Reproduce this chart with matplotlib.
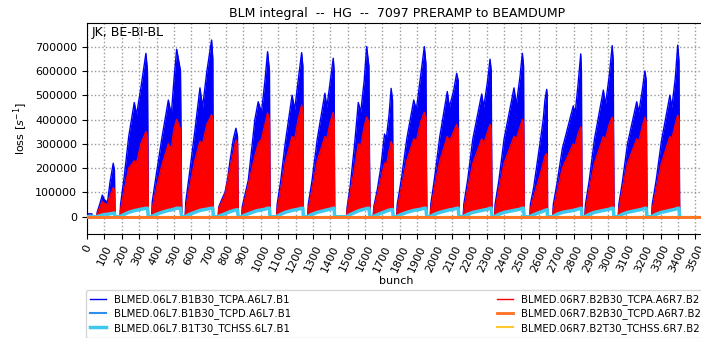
import numpy as np
import matplotlib
matplotlib.use("Agg")
import matplotlib.pyplot as plt

# ---------------- data (values in units of 1000 s^-1) ----------------
train_bunch = [
    [4, 6, 28, 31],
    [56, 59, 75, 88, 100, 118, 132, 151, 158, 161],
    [190, 193, 215, 240, 272, 285, 310, 339, 348, 353],
    [372, 375, 400, 430, 468, 485, 500, 516, 538, 545],
    [565, 568, 590, 620, 650, 665, 690, 717, 724, 727],
    [755, 758, 775, 794, 810, 823, 842, 857, 866, 870],
    [890, 893, 928, 966, 985, 1004, 1024, 1039, 1050, 1053],
    [1091, 1094, 1115, 1140, 1180, 1195, 1215, 1235, 1242, 1245],
    [1270, 1273, 1295, 1325, 1369, 1380, 1400, 1417, 1422, 1425],
    [1494, 1497, 1515, 1540, 1561, 1575, 1595, 1609, 1622, 1628],
    [1647, 1650, 1670, 1690, 1712, 1722, 1738, 1750, 1758, 1762],
    [1782, 1785, 1810, 1840, 1880, 1895, 1920, 1941, 1950, 1955],
    [1975, 1978, 2000, 2030, 2073, 2085, 2110, 2127, 2136, 2140],
    [2165, 2168, 2190, 2220, 2271, 2283, 2305, 2319, 2326, 2330],
    [2345, 2348, 2370, 2400, 2457, 2470, 2492, 2505, 2512, 2515],
    [2548, 2551, 2570, 2590, 2610, 2625, 2635, 2645, 2648, 2650],
    [2680, 2683, 2705, 2735, 2798, 2808, 2825, 2841, 2845, 2848],
    [2865, 2868, 2890, 2920, 2971, 2983, 3005, 3022, 3028, 3032],
    [3057, 3060, 3080, 3110, 3163, 3175, 3195, 3210, 3218, 3222],
    [3249, 3252, 3275, 3305, 3354, 3365, 3385, 3399, 3406, 3410],
]

b1_tcpa_hi = [
    [0, 12, 12, 0],
    [0, 20, 55, 89, 70, 60, 140, 220, 190, 0],
    [0, 50, 170, 330, 470, 420, 530, 672, 600, 0],
    [0, 60, 180, 320, 480, 420, 560, 689, 600, 0],
    [0, 60, 180, 350, 530, 450, 600, 727, 650, 0],
    [0, 40, 70, 100, 160, 230, 320, 364, 330, 0],
    [0, 40, 150, 400, 473, 430, 560, 679, 600, 0],
    [0, 50, 150, 300, 500, 440, 560, 675, 620, 0],
    [0, 50, 150, 320, 508, 450, 560, 652, 600, 0],
    [0, 40, 130, 300, 470, 430, 560, 700, 620, 0],
    [0, 40, 110, 200, 340, 320, 420, 528, 480, 0],
    [0, 50, 160, 320, 480, 440, 580, 700, 630, 0],
    [0, 50, 160, 330, 515, 450, 520, 590, 560, 0],
    [0, 50, 150, 320, 505, 450, 560, 648, 600, 0],
    [0, 50, 150, 320, 530, 460, 580, 672, 620, 0],
    [0, 50, 120, 220, 320, 400, 480, 524, 500, 0],
    [0, 50, 140, 280, 456, 420, 540, 670, 600, 0],
    [0, 50, 150, 320, 521, 460, 580, 704, 640, 0],
    [0, 50, 140, 300, 473, 430, 520, 600, 560, 0],
    [0, 50, 150, 310, 500, 450, 570, 706, 640, 0],
]

b2_tcpa_hi = [
    [0, 5, 6, 0],
    [0, 15, 40, 62, 55, 50, 85, 120, 110, 0],
    [0, 30, 110, 200, 230, 220, 300, 350, 330, 0],
    [0, 30, 120, 210, 300, 280, 360, 400, 360, 0],
    [0, 30, 120, 230, 310, 300, 380, 420, 400, 0],
    [0, 35, 60, 90, 150, 200, 260, 316, 300, 0],
    [0, 25, 130, 250, 300, 320, 380, 427, 400, 0],
    [0, 30, 110, 220, 330, 320, 400, 460, 420, 0],
    [0, 30, 110, 230, 330, 320, 390, 430, 400, 0],
    [0, 30, 100, 200, 300, 290, 370, 410, 390, 0],
    [0, 30, 90, 150, 220, 210, 270, 310, 290, 0],
    [0, 30, 120, 230, 320, 310, 390, 430, 410, 0],
    [0, 30, 120, 230, 330, 310, 350, 380, 360, 0],
    [0, 30, 110, 220, 320, 300, 350, 380, 360, 0],
    [0, 30, 110, 220, 330, 320, 370, 400, 380, 0],
    [0, 30, 80, 130, 180, 220, 250, 260, 250, 0],
    [0, 30, 100, 200, 300, 290, 340, 370, 350, 0],
    [0, 30, 110, 220, 330, 320, 380, 410, 390, 0],
    [0, 30, 110, 220, 320, 310, 370, 410, 390, 0],
    [0, 30, 110, 220, 330, 320, 380, 418, 400, 0],
]

tcpa_lo = [
    [0, 0, 0, 0],
    [0, 0, 5, 8, 10, 12, 14, 16, 18, 0],
    [0, 3, 12, 20, 28, 30, 34, 38, 38, 0],
    [0, 3, 12, 20, 29, 31, 34, 38, 38, 0],
    [0, 3, 12, 20, 29, 31, 34, 38, 38, 0],
    [0, 3, 9, 14, 19, 23, 27, 30, 31, 0],
    [0, 3, 14, 24, 29, 31, 34, 38, 38, 0],
    [0, 3, 12, 20, 29, 31, 34, 38, 38, 0],
    [0, 3, 12, 20, 29, 31, 34, 38, 38, 0],
    [0, 3, 11, 19, 27, 30, 34, 37, 38, 0],
    [0, 3, 10, 16, 22, 25, 29, 31, 32, 0],
    [0, 3, 12, 20, 29, 31, 34, 38, 38, 0],
    [0, 3, 12, 20, 29, 31, 34, 38, 38, 0],
    [0, 3, 12, 20, 29, 31, 34, 38, 38, 0],
    [0, 3, 12, 20, 29, 31, 34, 38, 38, 0],
    [0, 3, 10, 16, 21, 25, 28, 30, 31, 0],
    [0, 3, 12, 20, 29, 31, 34, 38, 38, 0],
    [0, 3, 12, 20, 29, 31, 34, 38, 38, 0],
    [0, 3, 12, 20, 29, 31, 34, 38, 38, 0],
    [0, 3, 12, 20, 29, 31, 34, 38, 38, 0],
]

b1_tchss = [
    [0, 1, 2, 0],
    [0, 1, 4, 7, 9, 10, 12, 14, 15, 0],
    [0, 2, 10, 18, 25, 27, 31, 35, 35, 0],
    [0, 2, 10, 18, 26, 28, 31, 35, 35, 0],
    [0, 2, 10, 18, 26, 28, 31, 35, 35, 0],
    [0, 2, 7, 12, 17, 21, 25, 28, 29, 0],
    [0, 2, 12, 22, 26, 28, 31, 35, 35, 0],
    [0, 2, 10, 18, 26, 28, 31, 35, 35, 0],
    [0, 2, 10, 18, 26, 28, 31, 35, 35, 0],
    [0, 2, 9, 17, 24, 27, 31, 34, 35, 0],
    [0, 2, 8, 14, 20, 23, 27, 29, 30, 0],
    [0, 2, 10, 18, 26, 28, 31, 35, 35, 0],
    [0, 2, 10, 18, 26, 28, 31, 35, 35, 0],
    [0, 2, 10, 18, 26, 28, 31, 35, 35, 0],
    [0, 2, 10, 18, 26, 28, 31, 35, 35, 0],
    [0, 2, 8, 14, 19, 23, 26, 28, 29, 0],
    [0, 2, 10, 18, 26, 28, 31, 35, 35, 0],
    [0, 2, 10, 18, 26, 28, 31, 35, 35, 0],
    [0, 2, 10, 18, 26, 28, 31, 35, 35, 0],
    [0, 2, 10, 18, 26, 28, 31, 35, 35, 0],
]

# constant-zero channels (read as 0 over the whole bunch range)
flat_bunch = [0, 3564]
b1_tcpd = [0, 0]
b2_tcpd = [0, 0]
b2_tchss = [0, 0]

labels = [
    "BLMED.06L7.B1B30_TCPA.A6L7.B1",
    "BLMED.06L7.B1B30_TCPD.A6L7.B1",
    "BLMED.06L7.B1T30_TCHSS.6L7.B1",
    "BLMED.06R7.B2B30_TCPA.A6R7.B2",
    "BLMED.06R7.B2B30_TCPD.A6R7.B2",
    "BLMED.06R7.B2T30_TCHSS.6R7.B2",
]
colors = ["#0000f4", "#2f8ff0", "#3ec8ee", "#ff0000", "#ff7020", "#ffc830"]

title = "BLM integral  --  HG  --  7097 PRERAMP to BEAMDUMP"
corner_text = "JK, BE-BI-BL"

# ---------------- plotting ----------------
scale = 1000.0
x = np.concatenate([np.array(t, float) for t in train_bunch])
bh = np.concatenate([np.array(t, float) for t in b1_tcpa_hi]) * scale
rh = np.concatenate([np.array(t, float) for t in b2_tcpa_hi]) * scale
lo = np.concatenate([np.array(t, float) for t in tcpa_lo]) * scale
cy = np.concatenate([np.array(t, float) for t in b1_tchss]) * scale

W, H = 701, 338
fig = plt.figure(figsize=(W / 100, H / 100), dpi=100)
ax = fig.add_axes([87 / W, 104 / H, 619.4 / W, 211 / H])

ax.fill_between(x, lo, bh, color=colors[0], lw=0, zorder=2)
l0, = ax.plot(x, bh, color=colors[0], lw=1.0, zorder=2, label=labels[0])
ax.fill_between(x, lo, rh, color=colors[3], lw=0, zorder=3)
l3, = ax.plot(x, rh, color=colors[3], lw=1.0, zorder=3, label=labels[3])
l1, = ax.plot(flat_bunch, b1_tcpd, color=colors[1], lw=1.5, zorder=3.5, label=labels[1])
l2, = ax.plot(x, cy, color=colors[2], lw=2.5, zorder=4, label=labels[2])
l5, = ax.plot(flat_bunch, b2_tchss, color=colors[5], lw=1.5, zorder=4.5, label=labels[5])
l4, = ax.plot(flat_bunch, b2_tcpd, color=colors[4], lw=2.0, zorder=5, label=labels[4])

ax.set_xlim(0, 3564)
ax.set_ylim(-71000, 797000)
ax.set_xticks(np.arange(0, 3501, 100))
ax.set_yticks(np.arange(0, 700001, 100000))
ax.ticklabel_format(axis="y", style="plain", useOffset=False)
ax.tick_params(axis="both", labelsize=8)
plt.setp(ax.get_xticklabels(), rotation=65)
ax.grid(True, linestyle=":", color="#999999", linewidth=1.0, zorder=0)
ax.set_axisbelow(True)

ax.set_title(title, fontsize=9, pad=4)
ax.set_xlabel("bunch", fontsize=8, labelpad=2)
ax.set_ylabel("loss [$s^{-1}$]", fontsize=8)
ax.text(0.008, 0.985, corner_text, transform=ax.transAxes, fontsize=9,
        va="top", ha="left")

# legend: place second column at a chosen pixel position
leg_fs = 7.3
fs_px = leg_fs * 100 / 72
hl, htp, bpad = 1.6, 0.8, 0.4
renderer = fig.canvas.get_renderer()
widths = []
for lab in labels[:3]:
    t = fig.text(0, 0, lab, fontsize=leg_fs)
    widths.append(t.get_window_extent(renderer).width)
    t.remove()
leg_x0 = 86
col2_target = 497
col1_w = (hl + htp) * fs_px + max(widths)
colsp = (col2_target - (leg_x0 + bpad * fs_px + col1_w)) / fs_px

handles = [l0, l1, l2, l3, l4, l5]
fig.legend(handles, labels, loc="upper left", ncol=2,
           bbox_to_anchor=(leg_x0 / W, (H - 290) / H),
           borderaxespad=0.0, borderpad=bpad, columnspacing=colsp,
           fontsize=leg_fs, handlelength=hl, handletextpad=htp,
           labelspacing=0.35,
           frameon=True, edgecolor="#cccccc", fancybox=True)

fig.savefig("out.png", dpi=100)
